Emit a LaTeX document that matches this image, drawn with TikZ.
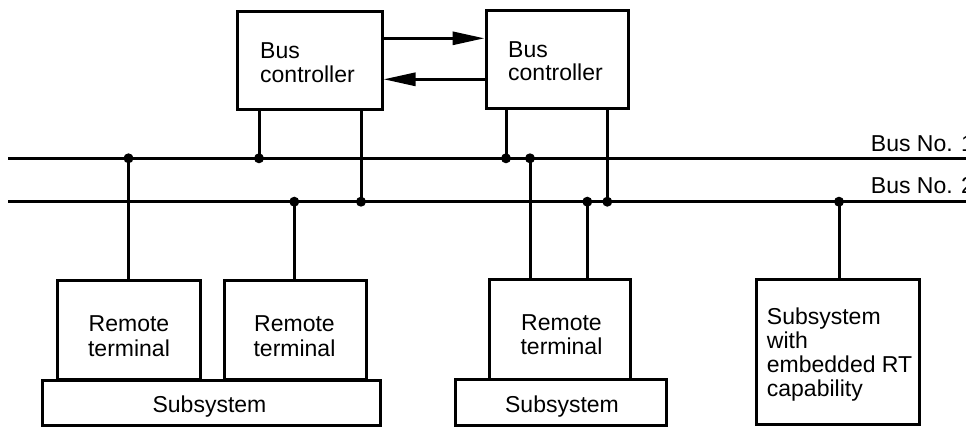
\documentclass[tikz,border=0pt]{standalone}
\usepackage{fontspec}
\setmainfont{Liberation Sans}
\usetikzlibrary{arrows.meta}
\begin{document}
\begin{tikzpicture}[x=1pt,y=-1pt,
  box/.style={draw, line width=3pt, inner sep=0pt},
  wire/.style={line width=3pt},
  arr/.style={line width=3pt, -{Triangle[length=32pt,width=13pt]}},
  txt/.style={font=\fontsize{23}{24}\selectfont, inner sep=0pt},
  dot/.style={circle, fill, inner sep=0pt, minimum size=10pt}]
\useasboundingbox (0,0) rectangle (966,426);
% boxes
\node[box, minimum width=145pt, minimum height=98pt] (bc1) at (309.5,60) {};
\node[box, minimum width=142pt, minimum height=98pt] (bc2) at (557,59) {};
\node[box, minimum width=143pt, minimum height=99pt] (rt1) at (129.3,330.3) {};
\node[box, minimum width=142pt, minimum height=99pt] (rt2) at (295.5,330.3) {};
\node[box, minimum width=141pt, minimum height=100pt] (rt3) at (559.5,329.2) {};
\node[box, minimum width=338pt, minimum height=45pt] (ss1) at (211.8,402.5) {};
\node[box, minimum width=211pt, minimum height=46pt] (ss2) at (561.2,402) {};
\node[box, minimum width=163pt, minimum height=145pt] (ssrt) at (838.3,351.5) {};
% texts
\node[txt, anchor=base west] (t1a) at (260,58) {Bus};
\node[txt, anchor=base west] (t1b) at (260,82) {controller};
\node[txt, anchor=base west] (t2a) at (508,57) {Bus};
\node[txt, anchor=base west] (t2b) at (508,80) {controller};
\node[txt, anchor=base] (r1a) at (129,331.7) {Remote};
\node[txt, anchor=base] (r1b) at (129,356) {terminal};
\node[txt, anchor=base] (r2a) at (294.5,331.7) {Remote};
\node[txt, anchor=base] (r2b) at (294.5,356) {terminal};
\node[txt, anchor=base] (r3a) at (561.5,330) {Remote};
\node[txt, anchor=base] (r3b) at (561.5,354.5) {terminal};
\node[txt, anchor=base] (s1) at (209.5,412.7) {Subsystem};
\node[txt, anchor=base] (s2) at (562,412.7) {Subsystem};
\node[txt, anchor=base west] (e1) at (766.7,324) {Subsystem};
\node[txt, anchor=base west] (e2) at (766.7,348) {with};
\node[txt, anchor=base west] (e3) at (766.7,372) {embedded RT};
\node[txt, anchor=base west] (e4) at (766.7,396) {capability};
\node[txt, anchor=base west] (b1) at (870.7,151.7) {Bus No. 1};
\node[txt, anchor=base west] (b2) at (870.7,193) {Bus No. 2};
% buses
\coordinate (bus1w) at (8,158.3);
\coordinate (bus1e) at (972,158.3);
\coordinate (bus2w) at (8,201.7);
\coordinate (bus2e) at (972,201.7);
\draw[wire] (bus1w) -- (bus1e);
\draw[wire] (bus2w) -- (bus2e);
% arrows between controllers
\draw[arr] (bc1.east |- 0,38.3) -- (bc2.west |- 0,38.3);
\draw[arr] (bc2.west |- 0,79.3) -- (bc1.east |- 0,79.3);
% junctions
\node[dot] (j1) at (128.5,158.3) {};
\node[dot] (j2) at (259,158.3) {};
\node[dot] (j3) at (506,158.3) {};
\node[dot] (j4) at (530,158.3) {};
\node[dot] (k1) at (294.3,201.7) {};
\node[dot] (k2) at (361,201.7) {};
\node[dot] (k3) at (587.3,201.7) {};
\node[dot] (k4) at (607.3,201.7) {};
\node[dot] (k5) at (839,201.7) {};
% drops
\draw[wire] (bc1.south -| j2) -- (j2.center);
\draw[wire] (bc1.south -| k2) -- (k2.center);
\draw[wire] (bc2.south -| j3) -- (j3.center);
\draw[wire] (bc2.south -| k4) -- (k4.center);
\draw[wire] (j1.center) -- (rt1.north -| j1);
\draw[wire] (k1.center) -- (rt2.north -| k1);
\draw[wire] (j4.center) -- (rt3.north -| j4);
\draw[wire] (k3.center) -- (rt3.north -| k3);
\draw[wire] (k5.center) -- (ssrt.north -| k5);
\end{tikzpicture}
\end{document}
